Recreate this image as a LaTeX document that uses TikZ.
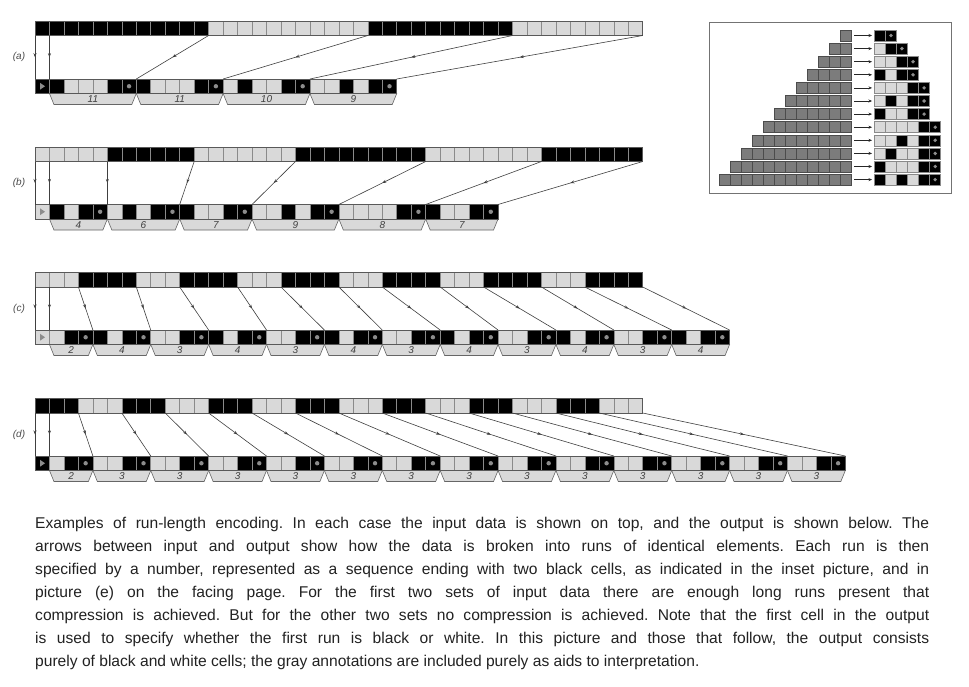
\documentclass[tikz,border=0pt]{standalone}
\usepackage{fontspec}
\setmainfont{Liberation Sans}
\usetikzlibrary{decorations.markings,arrows.meta}
\definecolor{lg}{HTML}{D9D9D9}
\definecolor{bordc}{HTML}{8A8A8A}
\definecolor{dotc}{HTML}{8C8C8C}
\definecolor{connc}{HTML}{404040}
\definecolor{insg}{HTML}{7C7C7C}
\definecolor{txtc}{HTML}{222222}
\newcommand\cw{14.47}
\newcommand\ch{14.5}
\newcommand\iw{11.07}
\frenchspacing
\tikzset{
  cellW/.style={fill=lg, draw=bordc, line width=0.6pt},
  cellB/.style={fill=black, draw=bordc, line width=0.6pt},
  cellD/.style={fill=black, draw=bordc, line width=0.6pt},
  rowframe/.style={draw=black!65, line width=0.7pt},
  conn/.style={draw=connc, line width=0.6pt, postaction={decorate},
    decoration={markings, mark=at position 0.5 with {\arrow{Stealth[length=4pt,width=3pt]}}}},
  trapbox/.style={fill=lg, draw=black!60, line width=0.6pt},
  numlab/.style={font=\fontsize{10}{10}\selectfont\itshape, text=black!75, inner sep=0pt},
  panellab/.style={font=\fontsize{10}{10}\selectfont\itshape, text=black!70, inner sep=0pt},
  inscell/.style={fill=insg, draw=black!70, line width=0.6pt},
  insarrow/.style={draw=black!85, line width=0.7pt, -{Stealth[length=3.5pt,width=3pt]}},
  capline/.style={anchor=base west, inner sep=0pt, font=\fontsize{15.6}{18}\selectfont, text=txtc},
}
% input row: #1 prefix, #2 y top, #3 runs colour/from/to
\newcommand\inrow[3]{%
  \foreach \col/\a/\b in {#3} {
    \foreach \k in {\a,...,\b} {
      \path[cell\col] ({35+\k*\cw},#2) rectangle ++(\cw,\ch);
    }
  }
  \path[rowframe] (35,#2) rectangle ({35+42*\cw},{#2+\ch});
  \foreach \k in {0,...,42} { \coordinate (#1-i\k) at ({35+\k*\cw},{#2+\ch}); }
}
% output row: #1 prefix, #2 y top, #3 marker colour, #4 total cells, #5 list, #6 traps
\newcommand\outrow[6]{%
  \foreach \s/\e/\l in {#6} {
    \path[trapbox] ({35+\s*\cw},{#2+\ch}) -- ({35+\e*\cw},{#2+\ch}) -- ({35+\e*\cw-4.5},{#2+\ch+11}) -- ({35+\s*\cw+4.5},{#2+\ch+11}) -- cycle;
    \node[numlab] (#1-t\s) at ({35+(\s+\e)/2*\cw},{#2+\ch+5.8}) {\l};
  }
  \path[cell#3] (35,#2) rectangle ++(\cw,\ch);
  \fill[dotc] (40,{#2+3.8}) -- (40,{#2+10.7}) -- (45,{#2+7.25}) -- cycle;
  \foreach \c [count=\i] in {#5} {
    \path[cell\c] ({35+\i*\cw},#2) rectangle ++(\cw,\ch);
    \if\c D\fill[dotc] ({35+(\i+0.5)*\cw},{#2+\ch/2}) circle (2.2);\fi
  }
  \path[rowframe] (35,#2) rectangle ({35+#4*\cw},{#2+\ch});
  \foreach \k in {0,...,#4} { \coordinate (#1-o\k) at ({35+\k*\cw},#2); }
}
\newcommand\links[2]{%
  \foreach \u/\v in {#2} { \draw[conn] (#1-i\u) -- (#1-o\v); }
}
% inset row: #1 n, #2 list
\newcommand\insetrow[2]{%
  \pgfmathsetmacro\yc{35.5+(#1-1)*13.1}
  \foreach \k in {1,...,#1} { \path[inscell] ({851.7-\k*\iw},{\yc-5.5}) rectangle ++(\iw,11); }
  \coordinate (ins-s#1) at (854,\yc);
  \coordinate (ins-e#1) at (872,\yc);
  \draw[insarrow] (ins-s#1) -- (ins-e#1);
  \foreach \c [count=\i from 0] in {#2} {
    \path[cell\c] ({874.3+\i*\iw},{\yc-5.5}) rectangle ++(\iw,11);
    \if\c D\fill[dotc] ({874.3+(\i+0.5)*\iw},\yc) circle (1.9);\fi
  }
}
\begin{document}
\begin{tikzpicture}[x=1pt,y=-1pt]
\useasboundingbox (0,0) rectangle (969,686);
\fill[white] (0,0) rectangle (969,686);

% ---------- (a)
\inrow{a}{21}{B/0/11, W/12/22, B/23/32, W/33/41}
\outrow{a}{79}{B}{25}{B,W,W,W,B,D,B,W,W,W,B,D,W,B,W,W,B,D,W,W,B,W,B,D}{1/7/11, 7/13/11, 13/19/10, 19/25/9}
\links{a}{0/0, 1/1, 12/7, 23/13, 33/19, 42/25}
\node[panellab] (la) at (19,57) {(a)};

% ---------- (b)
\inrow{b}{147}{W/0/4, B/5/10, W/11/17, B/18/26, W/27/34, B/35/41}
\outrow{b}{204.5}{W}{32}{B,W,B,D,W,B,W,B,D,B,W,W,B,D,W,W,B,W,B,D,W,W,W,W,B,D,B,W,W,B,D}{1/5/4, 5/10/6, 10/15/7, 15/21/9, 21/27/8, 27/32/7}
\links{b}{0/0, 1/1, 5/5, 11/10, 18/15, 27/21, 35/27, 42/32}
\node[panellab] (lb) at (19,183) {(b)};

% ---------- (c)
\inrow{c}{272.5}{W/0/2, B/3/6, W/7/9, B/10/13, W/14/16, B/17/20, W/21/23, B/24/27, W/28/30, B/31/34, W/35/37, B/38/41}
\outrow{c}{330}{W}{48}{W,B,D,B,W,B,D,W,W,B,D,B,W,B,D,W,W,B,D,B,W,B,D,W,W,B,D,B,W,B,D,W,W,B,D,B,W,B,D,W,W,B,D,B,W,B,D}{1/4/2, 4/8/4, 8/12/3, 12/16/4, 16/20/3, 20/24/4, 24/28/3, 28/32/4, 32/36/3, 36/40/4, 40/44/3, 44/48/4}
\links{c}{0/0, 1/1, 3/4, 7/8, 10/12, 14/16, 17/20, 21/24, 24/28, 28/32, 31/36, 35/40, 38/44, 42/48}
\node[panellab] (lc) at (19,308.5) {(c)};

% ---------- (d)
\inrow{d}{398.5}{B/0/2, W/3/5, B/6/8, W/9/11, B/12/14, W/15/17, B/18/20, W/21/23, B/24/26, W/27/29, B/30/32, W/33/35, B/36/38, W/39/41}
\outrow{d}{456}{B}{56}{W,B,D,
W,W,B,D,
W,W,B,D,
W,W,B,D,
W,W,B,D,
W,W,B,D,
W,W,B,D,
W,W,B,D,
W,W,B,D,
W,W,B,D,
W,W,B,D,
W,W,B,D,
W,W,B,D,
W,W,B,D}{1/4/2, 4/8/3, 8/12/3, 12/16/3, 16/20/3, 20/24/3, 24/28/3, 28/32/3, 32/36/3, 36/40/3, 40/44/3, 44/48/3, 48/52/3, 52/56/3}
\links{d}{0/0, 1/1, 3/4, 6/8, 9/12, 12/16, 15/20, 18/24, 21/28, 24/32, 27/36, 30/40, 33/44, 36/48, 39/52, 42/56}
\node[panellab] (ld) at (19,434.5) {(d)};

% ---------- inset
\draw[draw=black!55, line width=1pt] (709,22.5) rectangle (951,193);
\insetrow{1}{B,D}
\insetrow{2}{W,B,D}
\insetrow{3}{W,W,B,D}
\insetrow{4}{B,W,B,D}
\insetrow{5}{W,W,W,B,D}
\insetrow{6}{W,B,W,B,D}
\insetrow{7}{B,W,W,B,D}
\insetrow{8}{W,W,W,W,B,D}
\insetrow{9}{W,W,B,W,B,D}
\insetrow{10}{W,B,W,W,B,D}
\insetrow{11}{B,W,W,W,B,D}
\insetrow{12}{B,W,B,W,B,D}

% ---------- caption
\node[capline] (cap1) at (35,528) {\makebox[894pt][s]{Examples of run-length encoding. In each case the input data is shown on top, and the output is shown below. The}};
\node[capline] (cap2) at (35,551) {\makebox[894pt][s]{arrows between input and output show how the data is broken into runs of identical elements. Each run is then}};
\node[capline] (cap3) at (35,574) {\makebox[894pt][s]{specified by a number, represented as a sequence ending with two black cells, as indicated in the inset picture, and in}};
\node[capline] (cap4) at (35,597) {\makebox[894pt][s]{picture (e) on the facing page. For the first two sets of input data there are enough long runs present that}};
\node[capline] (cap5) at (35,620) {\makebox[894pt][s]{compression is achieved. But for the other two sets no compression is achieved. Note that the first cell in the output}};
\node[capline] (cap6) at (35,643) {\makebox[894pt][s]{is used to specify whether the first run is black or white. In this picture and those that follow, the output consists}};
\node[capline] (cap7) at (35,666) {purely of black and white cells; the gray annotations are included purely as aids to interpretation.};
\end{tikzpicture}
\end{document}
